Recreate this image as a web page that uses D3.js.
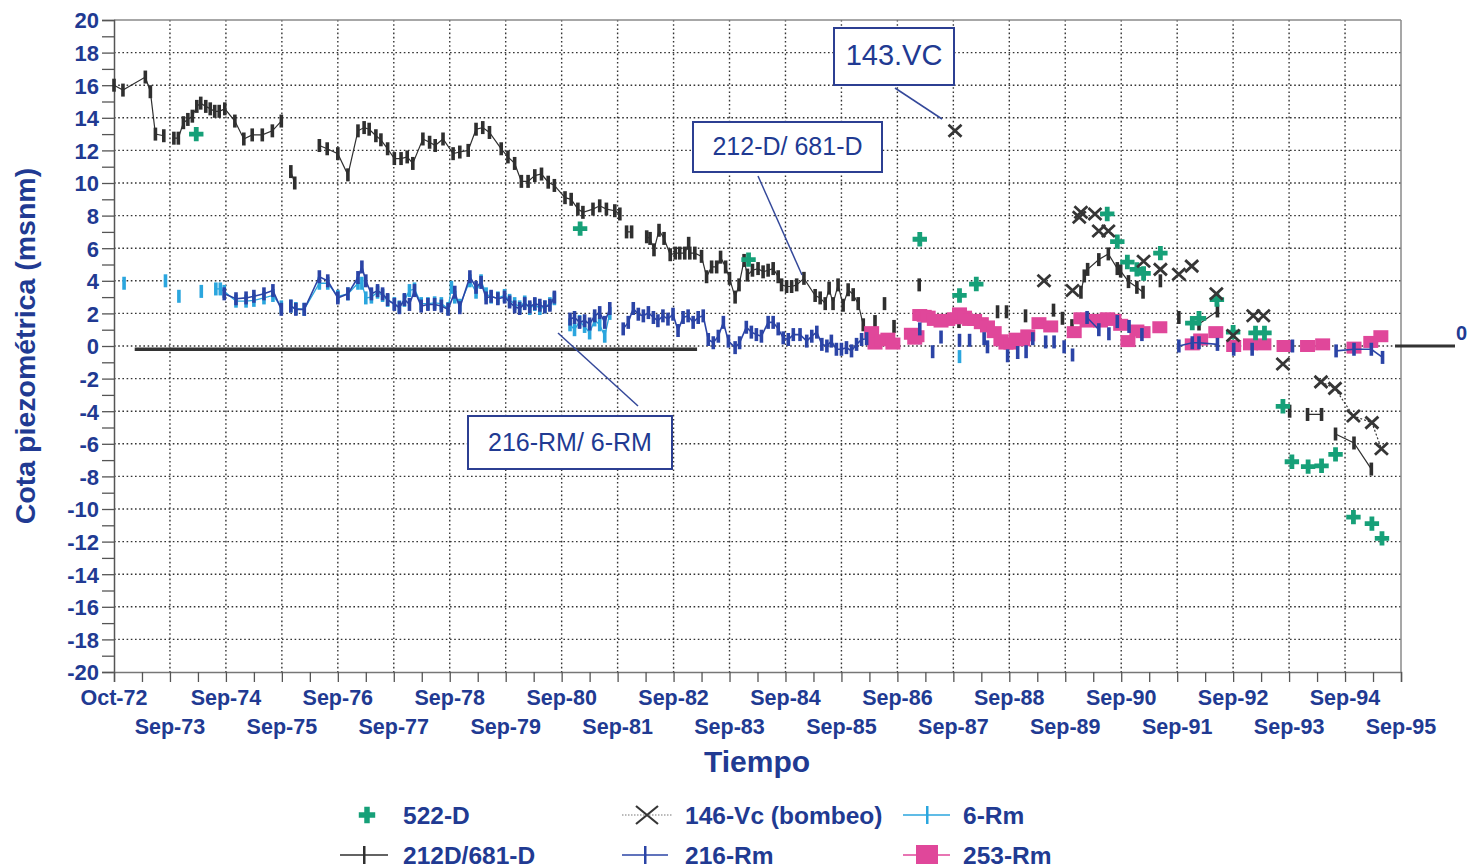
<!DOCTYPE html>
<html>
<head>
<meta charset="utf-8">
<script src="https://cdn.jsdelivr.net/npm/d3@7"></script>
<style>
  body { margin: 0; background: #fff; }
  text { font-family: "Liberation Sans", Arial, Helvetica, sans-serif; }
</style>
</head>
<body>
<svg id="chart" width="1469" height="868"></svg>
<script>
// Piezometric levels (m a.s.l.) — time given as years elapsed since Oct-72.

const xTickLabels = ["Oct-72","Sep-73","Sep-74","Sep-75","Sep-76","Sep-77","Sep-78","Sep-79",
  "Sep-80","Sep-81","Sep-82","Sep-83","Sep-84","Sep-85","Sep-86","Sep-87","Sep-88","Sep-89",
  "Sep-90","Sep-91","Sep-92","Sep-93","Sep-94","Sep-95"];
const yTickLabels = [20,18,16,14,12,10,8,6,4,2,0,-2,-4,-6,-8,-10,-12,-14,-16,-18,-20];

// 212D/681-D (null = break in the record)
const s212D = [
  [0,16.0],[0.16,15.7],[0.56,16.5],[0.65,15.6],[0.74,13.0],[0.89,12.9],null,
  [1.07,12.75],[1.15,12.75],[1.24,13.7],[1.32,13.9],[1.40,14.1],[1.48,14.7],[1.55,14.9],[1.64,14.7],
  [1.72,14.55],[1.80,14.4],[1.88,14.4],[1.98,14.55],[2.16,13.8],[2.32,12.7],[2.47,12.95],[2.65,12.95],
  [2.83,13.2],[2.99,13.8],null,
  [3.16,10.7],[3.23,10.0],null,
  [3.67,12.3],[3.81,12.1],[4.00,11.8],[4.18,10.5],[4.36,13.2],[4.47,13.4],[4.56,13.3],[4.68,12.9],
  [4.77,12.65],[4.89,12.1],[5.01,11.5],[5.13,11.5],[5.24,11.6],[5.34,11.2],[5.52,12.7],[5.64,12.5],
  [5.74,12.3],[5.88,12.7],[6.06,11.8],[6.18,11.9],[6.33,12.0],[6.47,13.3],[6.59,13.4],[6.71,13.1],
  [6.92,12.1],[7.04,11.6],[7.16,11.2],[7.28,10.1],[7.40,10.1],[7.52,10.45],[7.64,10.55],[7.76,10.05],
  [7.87,9.85],[8.06,9.1],[8.17,9.0],[8.29,8.4],[8.38,8.2],[8.56,8.4],[8.68,8.6],[8.80,8.4],[8.95,8.3],
  [9.04,8.1],null,
  [9.16,7.0],[9.25,7.0],null,
  [9.52,6.7],[9.58,6.6],[9.65,5.9],[9.74,7.1],[9.83,6.6],[9.94,5.6],[10.03,5.7],[10.11,5.7],[10.20,5.7],
  [10.27,6.3],[10.29,5.7],[10.38,5.7],[10.50,5.5],[10.59,4.25],[10.68,4.85],[10.77,4.85],[10.84,5.45],
  [10.93,4.85],[11.00,4.15],[11.10,3.0],[11.17,3.75],[11.26,5.25],[11.32,4.35],[11.41,4.65],[11.51,4.75],
  [11.60,4.55],[11.69,4.65],[11.78,4.75],[11.87,4.25],[11.93,3.75],[12.02,3.65],[12.11,3.65],[12.20,3.75],
  [12.33,4.15],[12.53,3.1],[12.62,2.95],[12.71,2.6],[12.78,3.55],[12.85,2.6],[12.94,3.75],[13.03,2.5],
  [13.12,3.45],[13.21,3.15],[13.30,2.6],[13.39,1.3],null,
  [13.60,1.5],null,[13.77,2.6],null,[13.94,1.2],null,[14.39,3.75],null,[15.10,1.5],null,
  [15.79,2.1],null,[15.95,2.1],null,[16.29,1.85],null,[16.79,2.2],null,[16.95,1.7],null,[17.12,1.25],null,
  [17.28,3.3],[17.34,4.3],[17.40,4.7],[17.60,5.3],[17.77,5.65],[17.93,4.75],[17.99,4.6],[18.13,3.95],
  [18.28,3.6],[18.39,3.3],null,
  [18.70,4.0],null,[19.03,1.75],null,
  [19.39,1.35],[19.72,2.15],null,
  [21.01,-4.0],null,
  [21.33,-4.2],[21.58,-4.2],null,
  [21.83,-5.4],[22.16,-5.95],[22.47,-7.55]
];

// 216-Rm
const s216Rm = [
  [1.97,3.2],[2.18,2.9],[2.36,2.95],[2.50,3.05],[2.68,3.2],[2.84,3.4],[2.99,2.25],null,
  [3.16,2.45],[3.25,2.25],[3.40,2.25],[3.67,4.25],[3.82,4.0],[4.00,2.95],[4.18,3.2],[4.36,4.2],[4.43,4.85],
  [4.50,4.0],[4.60,3.2],[4.71,3.4],[4.80,3.2],[4.89,2.85],[5.01,2.55],[5.10,2.35],[5.19,2.85],[5.28,2.55],
  [5.37,3.4],[5.49,2.45],[5.61,2.55],[5.73,2.55],[5.85,2.45],[5.97,2.25],[6.09,3.3],[6.18,2.35],[6.36,4.25],
  [6.47,3.6],[6.56,3.9],[6.65,2.95],[6.74,3.05],[6.86,2.9],[6.98,3.0],[7.07,2.7],[7.16,2.4],[7.25,2.3],
  [7.34,2.6],[7.43,2.4],[7.52,2.6],[7.61,2.5],[7.70,2.4],[7.79,2.5],[7.87,3.0],null,
  [8.15,1.65],[8.23,1.75],[8.32,1.45],[8.41,1.55],[8.50,1.35],[8.59,1.85],[8.68,2.05],[8.77,1.45],[8.86,2.3],null,
  [9.10,1.05],[9.19,1.45],[9.28,2.3],[9.37,1.95],[9.46,1.85],[9.55,2.05],[9.64,1.75],[9.72,1.55],[9.81,1.85],
  [9.90,1.65],[9.99,1.95],[10.08,0.95],[10.17,1.75],[10.26,1.85],[10.35,1.45],[10.44,1.75],[10.53,1.85],
  [10.62,0.4],[10.71,0.2],[10.80,0.6],[10.89,1.45],[10.98,0.3],[11.10,-0.1],[11.18,0.2],[11.30,1.15],
  [11.39,0.85],[11.48,0.7],[11.57,0.6],[11.69,1.45],[11.78,1.45],[11.87,1.05],[11.96,0.5],[12.05,0.4],
  [12.14,0.7],[12.26,0.7],[12.38,0.3],[12.47,0.6],[12.56,0.85],[12.65,0.1],[12.74,0.0],[12.82,0.3],
  [12.91,-0.2],[13.00,-0.2],[13.09,-0.1],[13.18,-0.3],[13.27,0.1],[13.36,0.4],[13.45,0.45],null,
  [14.40,1.05],null,[14.63,-0.35],null,[14.78,0.55],null,[15.11,0.35],null,[15.29,0.35],null,
  [15.55,0.45],[15.61,-0.05],null,[15.97,-0.6],null,[16.15,-0.4],null,[16.30,-0.35],null,[16.42,0.45],null,
  [16.65,0.25],null,[16.80,0.25],null,[16.98,-0.05],null,[17.13,-0.55],null,
  [17.39,1.75],[17.60,1.0],null,[17.78,0.75],null,[17.93,1.5],null,[18.14,1.2],null,[18.37,0.7],null,
  [19.03,0.0],[19.27,0.2],[19.39,0.2],[19.72,0.1],null,
  [20.01,-0.2],null,[20.34,-0.2],null,[21.06,0.0],null,
  [21.84,-0.3],[22.16,-0.2],[22.47,-0.2],[22.67,-0.7]
];

// 6-Rm
const s6Rm = [
  [0.18,3.85],null,[0.92,4.0],null,[1.16,3.05],null,[1.56,3.35],null,
  [1.82,3.5],[1.90,3.5],[1.97,3.35],[2.18,2.75],[2.36,2.75],[2.50,2.8],[2.68,2.95],[2.84,3.1],[2.99,2.4],null,
  [3.16,2.45],[3.25,2.3],[3.40,2.25],[3.67,3.85],[3.82,3.85],[4.00,3.05],[4.18,3.2],[4.36,3.85],[4.43,3.85],
  [4.50,2.95],[4.60,3.0],[4.71,3.3],[4.80,3.1],[4.89,2.8],[5.01,2.6],[5.10,2.4],[5.19,2.8],[5.28,3.4],
  [5.37,3.5],[5.49,2.6],[5.61,2.6],[5.73,2.65],[5.85,2.6],[5.97,2.3],[6.03,3.6],[6.09,3.0],[6.18,2.5],
  [6.36,4.0],[6.47,3.3],[6.56,4.0],[6.65,3.2],[6.74,3.0],[6.86,2.95],[6.98,3.1],[7.07,2.8],[7.16,2.6],
  [7.25,2.4],[7.34,2.7],[7.43,2.3],[7.52,2.55],[7.61,2.3],[7.70,2.4],[7.79,2.6],[7.87,2.9],null,
  [8.15,1.3],[8.23,1.0],[8.32,1.5],[8.41,1.2],[8.50,0.8],[8.59,1.6],[8.68,1.3],[8.77,0.6],[8.86,2.0],null,
  [14.40,0.5],null,[15.11,-0.65]
];

// 253-Rm
const s253Rm = [
  [13.54,0.85],[13.60,0.15],[13.72,0.35],[13.83,0.45],[13.92,0.15],[14.25,0.75],[14.31,0.45],[14.35,0.6],
  [14.40,1.9],[14.48,1.85],[14.55,1.8],[14.66,1.6],[14.78,1.5],[14.90,1.6],[15.02,1.7],[15.11,2.0],
  [15.20,1.8],[15.29,1.6],[15.38,1.6],[15.50,1.4],[15.61,1.2],[15.73,0.85],[15.85,0.35],[15.94,0.15],
  [16.03,0.15],[16.12,0.45],[16.24,0.35],[16.33,0.65],[16.53,1.4],[16.74,1.2],[17.16,0.85],[17.28,1.7],
  [17.39,1.5],[17.51,1.6],[17.63,1.5],[17.75,1.7],[17.87,1.6],[17.99,1.3],[18.12,0.3],[18.28,0.95],
  [18.39,0.85],[18.69,1.15],[19.27,0.1],[19.42,0.4],[19.69,0.85],[20.01,0.0],[20.31,0.1],[20.55,0.1],
  [20.91,0.0],[21.33,0.0],[21.60,0.1],[22.16,-0.1],[22.46,0.25],[22.64,0.6]
];

// 522-D
const s522D = [
  [1.47,13.0],[8.33,7.2],[11.34,5.3],[14.40,6.55],[15.11,3.1],[15.41,3.8],[17.75,8.1],[17.93,6.4],
  [18.11,5.15],[18.28,4.7],[18.40,4.45],[18.70,5.7],[19.27,1.4],[19.39,1.7],[19.71,2.85],[20.00,0.85],
  [20.40,0.8],[20.56,0.8],[20.89,-3.7],[21.05,-7.1],[21.34,-7.4],[21.58,-7.35],[21.83,-6.65],
  [22.15,-10.5],[22.48,-10.9],[22.66,-11.8]
];

// 146-Vc (bombeo)
const s146Vc = [
  [15.03,13.2],null,[16.62,4.0],null,[17.13,3.4],null,[17.25,7.9],null,[17.28,8.2],null,[17.53,8.1],null,
  [17.60,7.05],null,[17.77,7.05],null,[18.40,5.2],null,[18.70,4.7],null,[19.03,4.4],null,[19.26,4.9],null,
  [19.70,3.2],null,[20.00,0.65],null,[20.36,1.85],null,[20.54,1.85],null,[20.89,-1.1],null,
  [21.57,-2.2],[21.82,-2.6],[22.15,-4.3],[22.48,-4.7],[22.65,-6.3]
];

// reference level drawn under the early record
const refLevel = -0.2;
const refSpan = [0.37, 10.42];

const BLUE_TEXT = "#213a92";
const COL = {
  d212: "#2f2f2f",
  rm216: "#2b44a6",
  rm6: "#2ba6de",
  rm253: "#e0479a",
  d522: "#16a078",
  vc146: "#363636"
};

const svg = d3.select("#chart");
const M = { left: 114, right: 1401, top: 20, bottom: 672 };

const x = d3.scaleLinear().domain([0, 23]).range([M.left, M.right]);
const y = d3.scaleLinear().domain([-20, 20]).range([M.bottom, M.top]);

// grid
const grid = svg.append("g").attr("stroke", "#333").attr("stroke-width", 1.4)
  .attr("stroke-dasharray", "1.6,2.6");
grid.selectAll("line.v").data(d3.range(1, 23)).join("line")
  .attr("x1", d => x(d)).attr("x2", d => x(d)).attr("y1", M.top).attr("y2", M.bottom);
grid.selectAll("line.h").data(yTickLabels.filter(v => v > -20 && v < 20)).join("line")
  .attr("x1", M.left).attr("x2", M.right).attr("y1", d => y(d)).attr("y2", d => y(d));

// frame
svg.append("line").attr("x1", M.left).attr("x2", M.right).attr("y1", M.top).attr("y2", M.top)
  .attr("stroke", "#8a8a8a").attr("stroke-width", 1.5);
svg.append("line").attr("x1", M.right).attr("x2", M.right).attr("y1", M.top).attr("y2", M.bottom)
  .attr("stroke", "#8a8a8a").attr("stroke-width", 1.5);

// y axis
const yAxis = d3.axisLeft(y).tickValues(d3.range(-20, 21, 1)).tickSize(12).tickPadding(3)
  .tickFormat(d => (d % 2 === 0 ? String(d) : ""));
const gy = svg.append("g").attr("transform", `translate(${M.left},0)`).call(yAxis);
gy.select(".domain").attr("stroke", "#555").attr("stroke-width", 1.5);
gy.selectAll(".tick line").attr("stroke", "#555").attr("stroke-width", 1.3);
gy.selectAll(".tick text").attr("fill", BLUE_TEXT).attr("font-size", 22).attr("font-weight", "bold")
  .attr("font-family", "Liberation Sans, Arial, sans-serif").attr("dy", "0.36em");

// x axis (half-year ticks)
const xAxis = d3.axisBottom(x).tickValues(d3.range(0, 23.01, 0.5)).tickSize(10).tickFormat("");
const gx = svg.append("g").attr("transform", `translate(0,${M.bottom})`).call(xAxis);
gx.select(".domain").attr("stroke", "#777").attr("stroke-width", 1.5);
gx.selectAll(".tick line").attr("stroke", "#555").attr("stroke-width", 1.3);

svg.append("g").selectAll("text").data(xTickLabels).join("text")
  .attr("x", (d, i) => x(i))
  .attr("y", (d, i) => (i % 2 === 0 ? 705 : 734))
  .attr("text-anchor", "middle").attr("fill", BLUE_TEXT)
  .attr("font-size", 21.5).attr("font-weight", "bold")
  .text(d => d);

// axis titles
svg.append("text").attr("x", 757).attr("y", 772).attr("text-anchor", "middle")
  .attr("fill", BLUE_TEXT).attr("font-size", 30).attr("font-weight", "bold").text("Tiempo");
svg.append("text").attr("transform", "translate(35,346) rotate(-90)").attr("text-anchor", "middle")
  .attr("fill", BLUE_TEXT).attr("font-size", 28.5).attr("font-weight", "bold")
  .text("Cota piezométrica (msnm)");

// reference lines
svg.append("line").attr("x1", x(refSpan[0])).attr("x2", x(refSpan[1]))
  .attr("y1", y(refLevel)).attr("y2", y(refLevel))
  .attr("stroke", "#333").attr("stroke-width", 3.5);
svg.append("line").attr("x1", 1395).attr("x2", 1455).attr("y1", y(0)).attr("y2", y(0))
  .attr("stroke", "#333").attr("stroke-width", 3);
svg.append("text").attr("x", 1456).attr("y", 340).attr("fill", BLUE_TEXT)
  .attr("font-size", 20).attr("font-weight", "bold").text("0");

// series helpers
const line = d3.line().defined(d => d !== null).x(d => x(d[0])).y(d => y(d[1]));
const pts = arr => arr.filter(d => d !== null);

function barSeries(data, color, lw) {
  const g = svg.append("g");
  g.append("path").datum(data).attr("d", line).attr("fill", "none")
    .attr("stroke", color).attr("stroke-width", lw);
  g.selectAll("rect").data(pts(data)).join("rect")
    .attr("x", d => x(d[0]) - 1.8).attr("y", d => y(d[1]) - 6.5)
    .attr("width", 3.6).attr("height", 13).attr("fill", color);
}

barSeries(s212D, COL.d212, 1.2);
barSeries(s6Rm, COL.rm6, 1.3);

// 253-Rm squares
svg.append("g").selectAll("rect").data(pts(s253Rm)).join("rect")
  .attr("x", d => x(d[0]) - 7.5).attr("y", d => y(d[1]) - 6)
  .attr("width", 15).attr("height", 12).attr("fill", COL.rm253);

barSeries(s216Rm, COL.rm216, 1.6);

// 522-D crosses
const plus = d3.symbol().type(d3.symbolCross).size(115);
svg.append("g").selectAll("path").data(pts(s522D)).join("path")
  .attr("transform", d => `translate(${x(d[0])},${y(d[1])})`)
  .attr("d", plus).attr("fill", COL.d522);

// 146-Vc
svg.append("path").datum(s146Vc).attr("d", line).attr("fill", "none")
  .attr("stroke", COL.vc146).attr("stroke-width", 1.2).attr("stroke-dasharray", "2,2");
svg.append("g").selectAll("path").data(pts(s146Vc)).join("path")
  .attr("transform", d => `translate(${x(d[0])},${y(d[1])})`)
  .attr("d", "M-6.5,-6L6.5,6M-6.5,6L6.5,-6").attr("stroke", COL.vc146).attr("stroke-width", 2.8)
  .attr("fill", "none");

// callouts
const callouts = [
  { text: "143.VC", box: [834, 28, 120, 57], base: 65, size: 29, lead: [895, 88, 942, 119] },
  { text: "212-D/ 681-D", box: [693, 122, 189, 50], base: 155, size: 25, lead: [758, 176, 802, 275] },
  { text: "216-RM/ 6-RM", box: [468, 416, 204, 53], base: 451, size: 25, lead: [558, 333, 638, 406] }
];
const cg = svg.append("g");
callouts.forEach(c => {
  cg.append("line").attr("x1", c.lead[0]).attr("y1", c.lead[1]).attr("x2", c.lead[2]).attr("y2", c.lead[3])
    .attr("stroke", "#34489a").attr("stroke-width", 1.5);
  cg.append("rect").attr("x", c.box[0]).attr("y", c.box[1]).attr("width", c.box[2]).attr("height", c.box[3])
    .attr("fill", "#fff").attr("stroke", "#2c3f92").attr("stroke-width", 2);
  cg.append("text").attr("x", c.box[0] + c.box[2] / 2).attr("y", c.base).attr("text-anchor", "middle")
    .attr("fill", BLUE_TEXT).attr("font-size", c.size).text(c.text);
});

// legend
const lg = svg.append("g");
const legendText = (tx, ty, s) => lg.append("text").attr("x", tx).attr("y", ty).attr("fill", BLUE_TEXT)
  .attr("font-size", 24.5).attr("font-weight", "bold").text(s);
const r1 = 815, r2 = 855;
// 522-D
lg.append("path").attr("transform", `translate(367,${r1})`)
  .attr("d", d3.symbol().type(d3.symbolCross).size(150)).attr("fill", COL.d522);
legendText(403, r1 + 9, "522-D");
// 146-Vc
lg.append("line").attr("x1", 622).attr("x2", 672).attr("y1", r1).attr("y2", r1)
  .attr("stroke", "#777").attr("stroke-width", 1.2).attr("stroke-dasharray", "1.5,1.5");
lg.append("path").attr("transform", `translate(647,${r1})`).attr("d", "M-11,-9L11,9M-11,9L11,-9")
  .attr("stroke", COL.vc146).attr("stroke-width", 2.2).attr("fill", "none");
legendText(685, r1 + 9, "146-Vc (bombeo)");
// 6-Rm
lg.append("line").attr("x1", 903).attr("x2", 950).attr("y1", r1).attr("y2", r1)
  .attr("stroke", COL.rm6).attr("stroke-width", 1.5);
lg.append("rect").attr("x", 926).attr("y", r1 - 9).attr("width", 2.5).attr("height", 18).attr("fill", COL.rm6);
legendText(963, r1 + 9, "6-Rm");
// 212D/681-D
lg.append("line").attr("x1", 340).attr("x2", 388).attr("y1", r2).attr("y2", r2)
  .attr("stroke", COL.d212).attr("stroke-width", 1.5);
lg.append("rect").attr("x", 363).attr("y", r2 - 9).attr("width", 2.5).attr("height", 18).attr("fill", COL.d212);
legendText(403, r2 + 9, "212D/681-D");
// 216-Rm
lg.append("line").attr("x1", 622).attr("x2", 668).attr("y1", r2).attr("y2", r2)
  .attr("stroke", COL.rm216).attr("stroke-width", 1.5);
lg.append("rect").attr("x", 644).attr("y", r2 - 9).attr("width", 2.5).attr("height", 18).attr("fill", COL.rm216);
legendText(685, r2 + 9, "216-Rm");
// 253-Rm
lg.append("line").attr("x1", 903).attr("x2", 950).attr("y1", r2).attr("y2", r2)
  .attr("stroke", COL.rm253).attr("stroke-width", 1.5);
lg.append("rect").attr("x", 916).attr("y", r2 - 10).attr("width", 22).attr("height", 19).attr("fill", COL.rm253);
legendText(963, r2 + 9, "253-Rm");
</script>
</body>
</html>
